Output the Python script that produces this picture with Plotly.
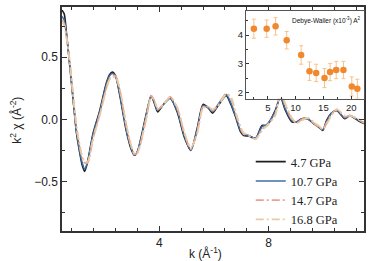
import plotly.graph_objects as go

# ---- data ----
k = [0.44, 0.52, 0.61, 0.73, 0.85, 0.97, 1.09, 1.18, 1.27, 1.38, 1.57, 1.82, 2.06, 2.18, 2.28,
     2.40, 2.55, 2.79, 2.97, 3.09, 3.20, 3.33, 3.52, 3.70, 3.82, 3.94, 4.15, 4.40, 4.67, 4.91,
     5.15, 5.39, 5.60, 5.80, 5.95, 6.15, 6.45, 6.62, 6.79, 6.97, 7.09, 7.27, 7.52, 7.76, 7.94,
     8.24, 8.43, 8.60, 8.85, 9.03, 9.21, 9.45, 9.64, 9.82, 9.98, 10.12, 10.30, 10.50, 10.79,
     10.97, 11.27, 11.49]

chi_47 = [0.88, 0.85, 0.68, 0.42, 0.15, -0.11, -0.27, -0.37, -0.42, -0.34, -0.12, 0.07, 0.29, 0.36, 0.38,
          0.35, 0.20, -0.09, -0.24, -0.29, -0.26, -0.15, 0.04, 0.19, 0.13, 0.06, 0.12, 0.17, 0.05, -0.14,
          -0.25, -0.07, 0.12, 0.09, 0.05, 0.11, 0.19, 0.12, 0.02, -0.10, -0.13, -0.135, -0.155, -0.05, -0.05,
          0.07, 0.18, 0.08, -0.02, -0.02, 0.005, 0.0, -0.035, -0.06, -0.09, -0.01, 0.05, 0.07, 0.005,
          0.03, -0.01, -0.035]

chi_107 = [0.83, 0.80, 0.67, 0.43, 0.16, -0.10, -0.26, -0.35, -0.40, -0.34, -0.13, 0.06, 0.28, 0.35, 0.37,
           0.35, 0.21, -0.08, -0.23, -0.29, -0.26, -0.16, 0.03, 0.19, 0.14, 0.07, 0.12, 0.17, 0.06, -0.13,
           -0.25, -0.08, 0.11, 0.09, 0.06, 0.12, 0.20, 0.13, 0.03, -0.09, -0.12, -0.13, -0.15, -0.06, -0.04,
           0.06, 0.19, 0.09, -0.01, -0.02, 0.0, 0.0, -0.03, -0.06, -0.085, -0.02, 0.05, 0.07, 0.01,
           0.03, -0.005, -0.03]

chi_147 = [0.80, 0.77, 0.66, 0.45, 0.18, -0.07, -0.22, -0.31, -0.35, -0.35, -0.16, 0.04, 0.25, 0.33, 0.35,
           0.35, 0.24, -0.05, -0.22, -0.28, -0.27, -0.18, 0.01, 0.19, 0.15, 0.08, 0.12, 0.18, 0.08, -0.11,
           -0.24, -0.10, 0.10, 0.10, 0.07, 0.11, 0.21, 0.17, 0.05, -0.07, -0.12, -0.13, -0.16, -0.08, -0.05,
           0.04, 0.22, 0.12, 0.0, -0.03, 0.0, 0.01, -0.03, -0.06, -0.08, -0.03, 0.04, 0.08, 0.02,
           0.03, 0.0, -0.03]

chi_168 = [0.79, 0.76, 0.65, 0.45, 0.19, -0.06, -0.21, -0.30, -0.34, -0.34, -0.16, 0.03, 0.24, 0.32, 0.34,
           0.34, 0.25, -0.04, -0.21, -0.28, -0.27, -0.18, 0.0, 0.18, 0.15, 0.09, 0.12, 0.18, 0.09, -0.10,
           -0.23, -0.11, 0.09, 0.10, 0.08, 0.11, 0.20, 0.18, 0.06, -0.06, -0.11, -0.13, -0.16, -0.09, -0.05,
           0.03, 0.21, 0.13, 0.01, -0.03, -0.01, 0.01, -0.02, -0.05, -0.08, -0.04, 0.03, 0.08, 0.03,
           0.03, 0.005, -0.025]

series_names = ["4.7 GPa", "10.7 GPa", "14.7 GPa", "16.8 GPa"]

# inset: Debye-Waller factor vs pressure
dw_p = [2.5, 4.8, 6.4, 8.4, 11.0, 12.5, 13.7, 15.2, 16.2, 17.3, 18.6, 20.1, 21.1]
dw_val = [4.22, 4.22, 4.30, 3.82, 3.31, 2.75, 2.69, 2.51, 2.72, 2.79, 2.79, 2.22, 2.14]
dw_err = [0.33, 0.30, 0.30, 0.30, 0.32, 0.32, 0.30, 0.33, 0.30, 0.30, 0.30, 0.33, 0.33]

# ---- figure ----
fig = go.Figure()
styles = [
    dict(color="#1e1e1e", width=1.6, dash="solid"),
    dict(color="#3f6fa8", width=1.5, dash="solid"),
    dict(color="#e9a38e", width=1.8, dash="8px,3px,2px,3px"),
    dict(color="#e6cca4", width=1.8, dash="8px,3px,2px,3px"),
]
for name, vals, st in zip(series_names, [chi_47, chi_107, chi_147, chi_168], styles):
    fig.add_trace(go.Scatter(x=k, y=vals, mode="lines", name=name,
                             line=dict(shape="spline", smoothing=0.7, **st),
                             xaxis="x", yaxis="y"))

fig.add_trace(go.Scatter(x=dw_p, y=dw_val, mode="markers", showlegend=False,
                         marker=dict(color="#f0882e", size=6.5),
                         error_y=dict(type="data", array=dw_err, color="#f6c28a",
                                      thickness=1, width=2),
                         xaxis="x2", yaxis="y2"))

axcol = "#333333"
tickfont = dict(family="Liberation Sans, Arial", size=12, color="#222")
fig.update_layout(
    width=371, height=261,
    margin=dict(l=62, r=5, t=6, b=30),
    paper_bgcolor="white", plot_bgcolor="white",
    xaxis=dict(domain=[0, 1], range=[0.44, 11.49], tickvals=[4, 8], ticktext=["4", "8"],
               ticks="inside", ticklen=5, tickcolor=axcol, tickwidth=1.2,
               showline=True, linecolor=axcol, linewidth=1.5, mirror="allticks",
               showgrid=False, zeroline=False, tickfont=tickfont,
               minor=dict(dtick=0.8, tick0=0, ticks="inside", ticklen=3, tickcolor=axcol, showgrid=False)),
    yaxis=dict(domain=[0, 1], range=[-0.9, 0.905], dtick=0.5, tick0=0, tickformat=".1f",
               ticks="inside", ticklen=5, tickcolor=axcol, tickwidth=1.2,
               showline=True, linecolor=axcol, linewidth=1.5, mirror="allticks",
               showgrid=False, zeroline=False, tickfont=tickfont,
               minor=dict(dtick=0.25, tick0=0, ticks="inside", ticklen=3, tickcolor=axcol, showgrid=False)),
    xaxis2=dict(domain=[0.609, 1.0], anchor="y2", range=[1.07, 22.3], dtick=5, tick0=0,
                ticks="inside", ticklen=3, tickcolor=axcol, showline=True, linecolor="#555",
                linewidth=1, mirror=True, showgrid=False, zeroline=False,
                tickfont=dict(family="Liberation Sans, Arial", size=9.5, color="#222"),
                minor=dict(dtick=2.5, ticks="inside", ticklen=2, tickcolor=axcol, showgrid=False)),
    yaxis2=dict(domain=[0.591, 0.982], anchor="x2", range=[1.8, 4.83], dtick=1, tick0=0,
                ticks="inside", ticklen=3, tickcolor=axcol, showline=True, linecolor="#555",
                linewidth=1, mirror=True, showgrid=False, zeroline=False,
                tickfont=dict(family="Liberation Sans, Arial", size=9.5, color="#222"),
                minor=dict(dtick=0.5, ticks="inside", ticklen=2, tickcolor=axcol, showgrid=False)),
    legend=dict(x=0.625, y=0.375, xanchor="left", yanchor="top", bgcolor="rgba(0,0,0,0)",
                font=dict(family="Liberation Serif, Times New Roman", size=12.5, color="#222"),
                tracegroupgap=0),
    showlegend=True,
)

fig.add_annotation(text="k (Å<sup>-1</sup>)", xref="paper", yref="paper",
                   x=0.475, y=-0.10, showarrow=False, xanchor="center", yanchor="middle",
                   font=dict(family="Liberation Sans, Arial", size=12, color="#222"))
fig.add_annotation(text="k<sup>2</sup> χ (Å<sup>-2</sup>)", xref="paper", yref="paper",
                   x=-0.155, y=0.493, showarrow=False, textangle=-90,
                   xanchor="center", yanchor="middle",
                   font=dict(family="Liberation Sans, Arial", size=12, color="#222"))
fig.add_annotation(text="Debye-Waller (x10<sup>-3</sup>) A<sup>2</sup>", xref="paper", yref="paper",
                   x=0.997, y=0.94, showarrow=False, xanchor="right", yanchor="middle",
                   font=dict(family="Liberation Sans, Arial", size=6.5, color="#111"))

fig.write_html("out.html")
